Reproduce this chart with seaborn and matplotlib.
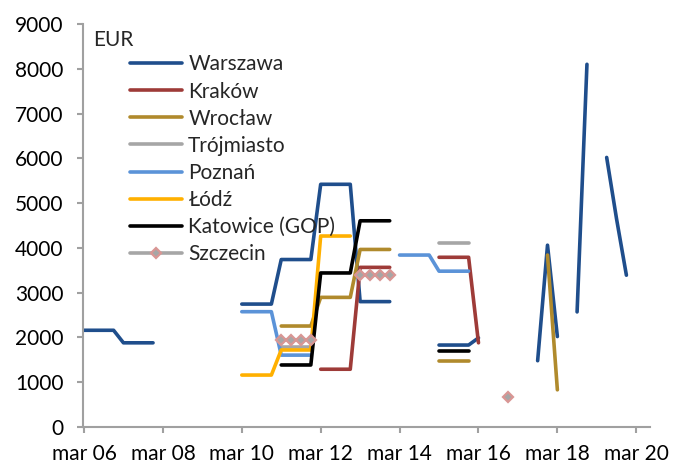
import numpy as np
import pandas as pd
import seaborn as sns
import matplotlib.pyplot as plt
from matplotlib.lines import Line2D

# ==================== Data ====================
# quarterly prices (EUR/m2), each segment = (first quarter, values)
WARSZAWA = [('2006Q1', [2160, 2160, 2160, 2160, 1880, 1880, 1880, 1880]),
            ('2010Q1', [2745, 2745, 2745, 2745, 3740, 3740, 3740, 3740,
                        5420, 5420, 5420, 5420, 2800, 2800, 2800, 2800]),
            ('2015Q1', [1830, 1830, 1830, 1830, 1990]),
            ('2017Q3', [1480, 4060, 2020]),
            ('2018Q3', [2570, 8100]),
            ('2019Q2', [6020, 4650, 3390])]
KRAKOW = [('2012Q1', [1290, 1290, 1290, 1290, 3565, 3565, 3565, 3565]),
          ('2015Q1', [3790, 3790, 3790, 3790, 1880])]
WROCLAW = [('2011Q1', [2255, 2255, 2255, 2255, 2895, 2895, 2895, 2895,
                       3965, 3965, 3965, 3965]),
           ('2015Q1', [1475, 1475, 1475, 1475]),
           ('2017Q4', [3840, 830])]
TROJMIASTO = [('2011Q1', [1790, 1790, 1790, 1790]),
              ('2015Q1', [4100, 4100, 4100, 4100])]
POZNAN = [('2010Q1', [2575, 2575, 2575, 2575, 1605, 1605, 1605, 1605]),
          ('2014Q1', [3840, 3840, 3840, 3840, 3480, 3480, 3480, 3480])]
LODZ = [('2010Q1', [1160, 1160, 1160, 1160, 1720, 1720, 1720, 1720,
                    4265, 4265, 4265, 4265])]
KATOWICE = [('2011Q1', [1385, 1385, 1385, 1385, 3440, 3440, 3440, 3440,
                        4605, 4605, 4605, 4605]),
            ('2015Q1', [1705, 1705, 1705, 1705])]
SZCZECIN = [('2011Q1', [1950, 1950, 1950, 1950]),
            ('2013Q1', [3390, 3390, 3390, 3390]),
            ('2016Q4', [680])]

CITIES = ['Warszawa', 'Kraków', 'Wrocław', 'Trójmiasto', 'Poznań', 'Łódź',
          'Katowice (GOP)', 'Szczecin']
SERIES = [WARSZAWA, KRAKOW, WROCLAW, TROJMIASTO, POZNAN, LODZ, KATOWICE, SZCZECIN]
COLORS = ['#1F4E8C', '#9E3B38', '#B08A2C', '#A6A6A6', '#5B93D8', '#FFB000',
          '#000000', '#A6A6A6']

TICK_YEARS = [2006, 2008, 2010, 2012, 2014, 2016, 2018, 2020]
TICK_LABELS = [f'mar {y % 100:02d}' for y in TICK_YEARS]
BASE = pd.Period('2006Q1', freq='Q')

# ==================== Build table ====================
rows = []
for city, segs in zip(CITIES, SERIES):
    for k, (start, vals) in enumerate(segs):
        p0 = pd.Period(start, freq='Q')
        for i, v in enumerate(vals):
            rows.append({'city': city, 'seg': k,
                         'q': (p0 - BASE).n + i, 'price': v})
df = pd.DataFrame(rows)

# ==================== Plot ====================
sns.set_style('white')
plt.rcParams['font.family'] = ['Lato', 'DejaVu Sans']

fig = plt.figure(figsize=(6.85, 4.66), dpi=100)
ax = fig.add_axes([0.1212, 0.0837, 0.8278, 0.8648])

MARKER_KW = dict(marker='D', markersize=5.5, markerfacecolor='#A6A6A6',
                 markeredgecolor='#D99694', markeredgewidth=1.6)

for city, color in zip(CITIES, COLORS):
    sub = df[df['city'] == city]
    if city == 'Szczecin':
        sns.lineplot(data=sub, x='q', y='price', units='seg', estimator=None,
                     color=color, lw=2.6, ax=ax, legend=False, **MARKER_KW)
    else:
        sns.lineplot(data=sub, x='q', y='price', units='seg', estimator=None,
                     color=color, lw=2.6, solid_capstyle='round',
                     ax=ax, legend=False)

ax.set_xlim(-0.1, 57.4)
ax.set_ylim(0, 9000)
ax.set_yticks(np.arange(0, 9001, 1000))
ax.set_xticks([(y - 2006) * 4 for y in TICK_YEARS])
ax.set_xticklabels(TICK_LABELS)
ax.set_xlabel('')
ax.set_ylabel('')

for side in ['top', 'right']:
    ax.spines[side].set_visible(False)
for side in ['left', 'bottom']:
    ax.spines[side].set_color('#A0A0A0')
    ax.spines[side].set_linewidth(1.5)
ax.tick_params(axis='both', colors='#A0A0A0', length=4, width=1.5,
               labelcolor='black', labelsize=15, direction='out')
ax.tick_params(axis='y', pad=10)
ax.tick_params(axis='x', pad=8)
ax.yaxis.set_ticks_position('left')
ax.xaxis.set_ticks_position('bottom')

ax.text(0.018, 0.985, 'EUR', transform=ax.transAxes, fontsize=15,
        va='top', ha='left')

handles = []
for city, color in zip(CITIES, COLORS):
    if city == 'Szczecin':
        h = Line2D([], [], color=color, lw=2.6, **MARKER_KW)
    else:
        h = Line2D([], [], color=color, lw=2.6, solid_capstyle='round')
    handles.append(h)
ax.legend(handles, CITIES, loc='upper left', bbox_to_anchor=(0.068, 0.945),
          frameon=False, fontsize=15, handlelength=2.5, handletextpad=0.3,
          labelspacing=0.34, borderaxespad=0)

fig.savefig('out.png', dpi=100)
